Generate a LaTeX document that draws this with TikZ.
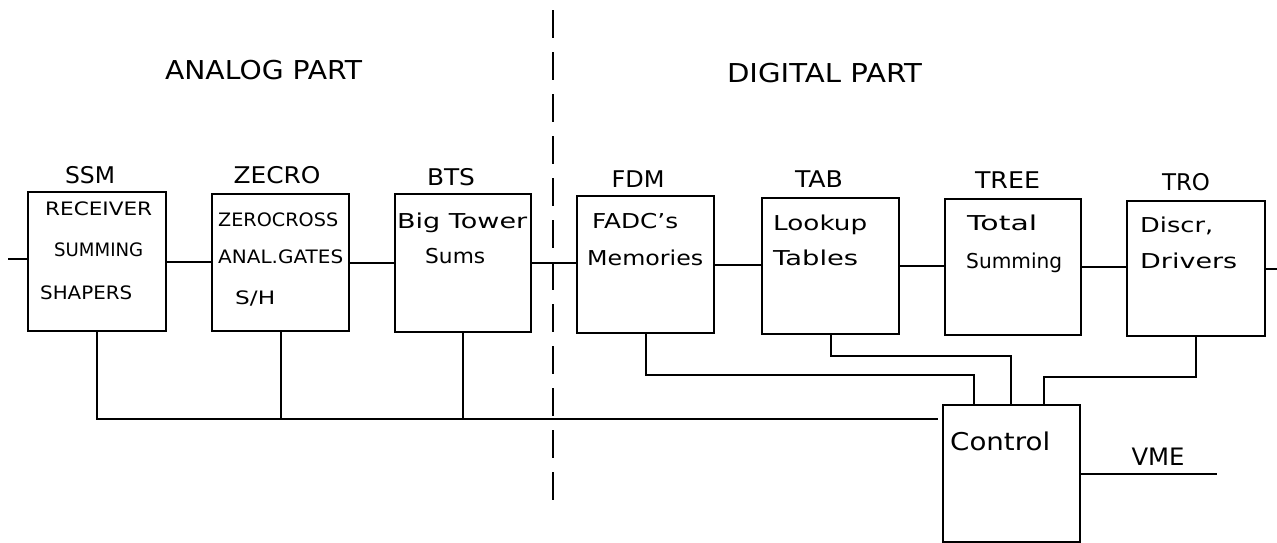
\documentclass[tikz,border=0pt]{standalone}
\usepackage{fontspec}
\usepackage{graphicx}
\setmainfont{DejaVu Sans}
\newcommand\myfs[1]{\fontsize{#1}{#1}\selectfont}
\newcommand\fitw[2]{\resizebox{#1pt}{\height}{#2}}
\begin{document}
\begin{tikzpicture}[x=1pt,y=-1pt,
  box/.style={draw, line width=2pt, rectangle, inner sep=0pt, anchor=north west},
  wire/.style={line width=2pt},
  txt/.style={anchor=base west, inner sep=0pt, font=\myfs{20.5}},
  utxt/.style={anchor=base west, inner sep=0pt, font=\myfs{18.5}},
  lbl/.style={anchor=base, inner sep=0pt, font=\myfs{23}},
  ttl/.style={anchor=base, inner sep=0pt, font=\myfs{26}}]
\useasboundingbox (0,0) rectangle (1277,542);
% titles
\node[ttl] (analog) at (263.5,79) {\fitw{197}{ANALOG PART}};
\node[ttl] (digital) at (824.5,82) {\fitw{195}{DIGITAL PART}};
% boxes
\node[box, minimum width=138pt, minimum height=139pt] (ssm) at (27,191) {};
\node[box, minimum width=137pt, minimum height=137pt] (zecro) at (211,193) {};
\node[box, minimum width=136pt, minimum height=138pt] (bts) at (394,193) {};
\node[box, minimum width=137pt, minimum height=137pt] (fdm) at (576,195) {};
\node[box, minimum width=137pt, minimum height=136pt] (tab) at (761,197) {};
\node[box, minimum width=136pt, minimum height=136pt] (tree) at (944,198) {};
\node[box, minimum width=138pt, minimum height=135pt] (tro) at (1126,200) {};
\node[box, minimum width=137pt, minimum height=137pt] (control) at (942,404) {};
% labels above boxes
\node[lbl] (lssm) at (90,183) {\fitw{50}{SSM}};
\node[lbl] (lzecro) at (277,183) {\fitw{87}{ZECRO}};
\node[lbl] (lbts) at (451,185) {\fitw{48}{BTS}};
\node[lbl] (lfdm) at (638,187) {\fitw{53}{FDM}};
\node[lbl] (ltab) at (819,187) {\fitw{48}{TAB}};
\node[lbl] (ltree) at (1007.5,188) {\fitw{65}{TREE}};
\node[lbl] (ltro) at (1186,190) {\fitw{48}{TRO}};
% box texts
\node[utxt] (t1) at (45,215) {\fitw{107}{RECEIVER}};
\node[utxt] (t2) at (54,256) {\fitw{89}{SUMMING}};
\node[utxt] (t3) at (40,299) {\fitw{92}{SHAPERS}};
\node[utxt] (t4) at (218,226) {\fitw{120}{ZEROCROSS}};
\node[utxt] (t5) at (218,263) {\fitw{125}{ANAL.GATES}};
\node[utxt] (t6) at (235,304) {\fitw{40}{S/H}};
\node[txt] (t7) at (397,228) {\fitw{130}{Big Tower}};
\node[txt] (t8) at (425,263) {\fitw{60}{Sums}};
\node[txt] (t9) at (592,228) {\fitw{86}{FADC's}};
\node[txt] (t10) at (587,265) {\fitw{116}{Memories}};
\node[txt] (t11) at (773,230) {\fitw{94}{Lookup}};
\node[txt] (t12) at (773,265) {\fitw{85}{Tables}};
\node[txt] (t13) at (967,230) {\fitw{70}{Total}};
\node[txt] (t14) at (966,268) {\fitw{96}{Summing}};
\node[txt] (t15) at (1140,232) {\fitw{73}{Discr,}};
\node[txt] (t16) at (1140,268) {\fitw{97}{Drivers}};
\node[txt, font=\myfs{24.5}] (t17) at (950,450) {\fitw{100}{Control}};
\node[lbl, font=\myfs{24}] (vme) at (1158,465) {\fitw{53}{VME}};
% signal chain
\coordinate (inL) at (8,259);
\coordinate (outR) at (1277,267);
\draw[wire] (inL) -- (inL -| ssm.west);
\draw[wire] (ssm.east) -- (ssm.east -| zecro.west);
\draw[wire] (zecro.east) -- (zecro.east -| bts.west);
\draw[wire] (bts.east) -- (bts.east -| fdm.west);
\draw[wire] (fdm.east) -- (fdm.east -| tab.west);
\draw[wire] (tab.east) -- (tab.east -| tree.west);
\draw[wire] (tree.east) -- (tree.east -| tro.west);
\draw[wire] (tro.east) -- (tro.east -| outR);
% analog bus
\coordinate (busEnd) at (938,419);
\draw[wire] (ssm.south) -- (ssm.south |- busEnd) -- (busEnd);
\draw[wire] (zecro.south) -- (zecro.south |- busEnd);
\draw[wire] (bts.south) -- (bts.south |- busEnd);
% digital control lines
\coordinate (fdmJ) at (974,375);
\coordinate (tabJ) at (1011,356);
\coordinate (troJ) at (1044,377);
\draw[wire] (fdm.south) |- (fdmJ) -- (fdmJ |- control.north);
\draw[wire] (tab.south) |- (tabJ) -- (tabJ |- control.north);
\draw[wire] (tro.south) |- (troJ) -- (troJ |- control.north);
% VME
\coordinate (vmeEnd) at (1217,473);
\draw[wire] (control.east) -- (control.east -| vmeEnd);
% divider
\coordinate (dTop) at (553,10);
\coordinate (dBot) at (553,507);
\draw[line width=2pt, dash pattern=on 28pt off 14pt] (dTop) -- (dBot);
\end{tikzpicture}
\end{document}
